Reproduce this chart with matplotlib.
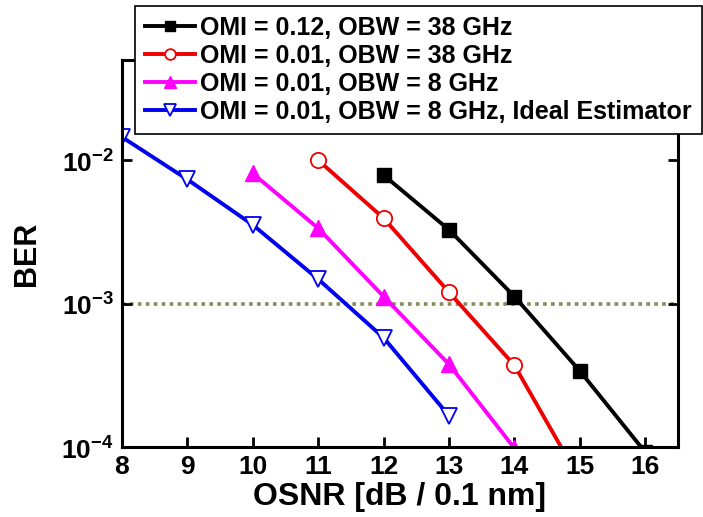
import matplotlib
matplotlib.use('Agg')
import matplotlib.pyplot as plt
from matplotlib.ticker import NullLocator, FixedLocator

plt.rcParams['font.family'] = ['Liberation Sans', 'DejaVu Sans']
plt.rcParams['font.weight'] = 'bold'
plt.rcParams['mathtext.fontset'] = 'custom'
plt.rcParams['mathtext.rm'] = 'Liberation Sans:bold'
plt.rcParams['mathtext.bf'] = 'Liberation Sans:bold'

# Data
osnr_a = [12, 13, 14, 15, 16]
ber_a = [0.00787, 0.00327, 0.00112, 0.000339, 0.000092]

osnr_b = [11, 12, 13, 14, 15]
ber_b = [0.0100, 0.00394, 0.00120, 0.000371, 0.000059]

osnr_c = [10, 11, 12, 13, 14]
ber_c = [0.00808, 0.00335, 0.00112, 0.000377, 0.000098]

osnr_d = [8, 9, 10, 11, 12, 13]
ber_d = [0.0145, 0.00734, 0.00354, 0.00148, 0.000578, 0.000165]

labels = ['OMI = 0.12, OBW = 38 GHz',
          'OMI = 0.01, OBW = 38 GHz',
          'OMI = 0.01, OBW = 8 GHz',
          'OMI = 0.01, OBW = 8 GHz, Ideal Estimator']

fig = plt.figure(figsize=(7.03, 5.17), dpi=100)
ax = fig.add_axes([0.1735, 0.1354, 0.7909, 0.7486])

ax.axhline(1e-3, color='#8a8a5c', linestyle=(0, (1, 1.2)), linewidth=2.6, zorder=1)

h1, = ax.plot(osnr_a, ber_a, color='black', lw=2.8, marker='s', ms=10.5,
              mfc='black', mec='black', label=labels[0])
h2, = ax.plot(osnr_b, ber_b, color='#ee0000', lw=2.8, marker='o', ms=11,
              mfc='white', mec='#ee0000', mew=1.3, label=labels[1])
h3, = ax.plot(osnr_c, ber_c, color='#ff00ff', lw=2.8, marker='^', ms=12,
              mfc='#ff00ff', mec='#ff00ff', label=labels[2])
h4, = ax.plot(osnr_d, ber_d, color='#0000ee', lw=2.8, marker='v', ms=12,
              mfc='white', mec='#0000ee', mew=1.3, label=labels[3])

ax.set_yscale('log')
ax.set_xlim(8, 16.5)
ax.set_ylim(1e-4, 0.05)
ax.set_xticks(range(8, 17))
ax.yaxis.set_major_locator(FixedLocator([1e-4, 1e-3, 1e-2]))
ax.set_yticklabels([r'$10^{-4}$', r'$10^{-3}$', r'$10^{-2}$'])
ax.yaxis.set_minor_locator(NullLocator())
ax.tick_params(axis='both', which='major', direction='in', length=7, width=2,
               labelsize=19, top=True, right=True, pad=6)
for s in ax.spines.values():
    s.set_linewidth(2.2)

ax.set_xlabel('OSNR [dB / 0.1 nm]', fontsize=23, fontweight='bold', labelpad=2)
ax.set_ylabel('BER', fontsize=22, fontweight='bold', labelpad=14)

leg = fig.legend(handles=[h1, h2, h3, h4], loc='upper left',
                 bbox_to_anchor=(135 / 703, 1 - 6 / 517), fontsize=18,
                 frameon=True, fancybox=False, framealpha=1, handlelength=2.0,
                 handletextpad=0.2, borderpad=0.4, labelspacing=0.16,
                 markerscale=0.7, borderaxespad=0)
leg.get_frame().set_edgecolor('black')
leg.get_frame().set_linewidth(1.2)
for t in leg.get_texts():
    t.set_fontweight('bold')

fig.savefig('out.png', dpi=100)
